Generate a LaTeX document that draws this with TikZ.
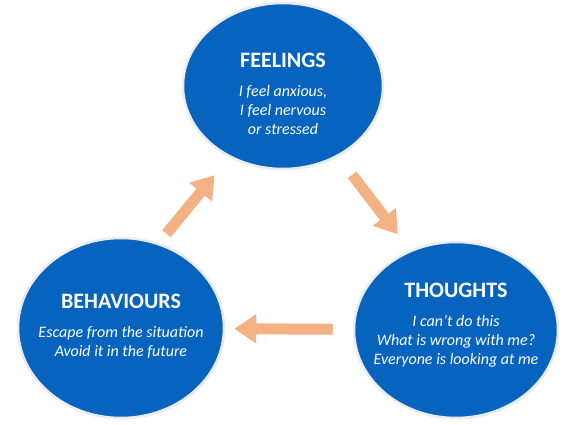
\documentclass[tikz,border=0pt]{standalone}
\usepackage{fontspec}
\setmainfont{Carlito}
\usetikzlibrary{arrows.meta,shapes.geometric,shadows}
\definecolor{cycle-blue}{RGB}{6,99,190}
\definecolor{cycle-orange}{RGB}{244,177,131}
\newcommand{\circletitle}[1]{{\upshape\bfseries\fontsize{22}{26}\selectfont #1}\\[9.5pt]}
\tikzset{
    mood-circle/.style = {ellipse, draw=gray!15, line width=2.5pt, fill=cycle-blue, inner sep=0pt, minimum width=204pt, minimum height=176pt, drop shadow={opacity=0.2, shadow xshift=0.8pt, shadow yshift=-1.2pt}},
    mood-text/.style = {text=white, inner sep=0pt, align=center, font=\fontsize{16}{19}\selectfont\itshape},
    cycle-arrow/.style = {draw=cycle-orange, line width=11pt, -{Triangle[length=22pt,width=28pt]}},
}
\begin{document}
\begin{tikzpicture}[x=1pt,y=-1pt]
\useasboundingbox (0,0) rectangle (566,425);
\node[mood-circle, minimum width=200pt, minimum height=166pt, label={[mood-text, yshift=-8pt]center:\circletitle{FEELINGS}I feel anxious,\\ I feel nervous\\ or stressed}] (feelings) at (283,86) {};
\node[mood-circle, label={[mood-text, yshift=5pt]center:\circletitle{THOUGHTS}I can't do this\\ What is wrong with me?\\ Everyone is looking at me}] (thoughts) at (456,330) {};
\node[mood-circle, minimum width=206pt, minimum height=180pt, label={[mood-text, yshift=2pt]center:\circletitle{BEHAVIOURS}Escape from the situation\\ Avoid it in the future}] (behaviours) at (121,328) {};
\draw[cycle-arrow, shorten <=12pt, shorten >=23pt] (behaviours.66) -- (feelings.233);
\draw[cycle-arrow, shorten <=23pt, shorten >=20pt] (feelings.308) -- (thoughts.120);
\draw[cycle-arrow, shorten <=20pt, shorten >=9pt] (thoughts) -- (behaviours);
\end{tikzpicture}
\end{document}
